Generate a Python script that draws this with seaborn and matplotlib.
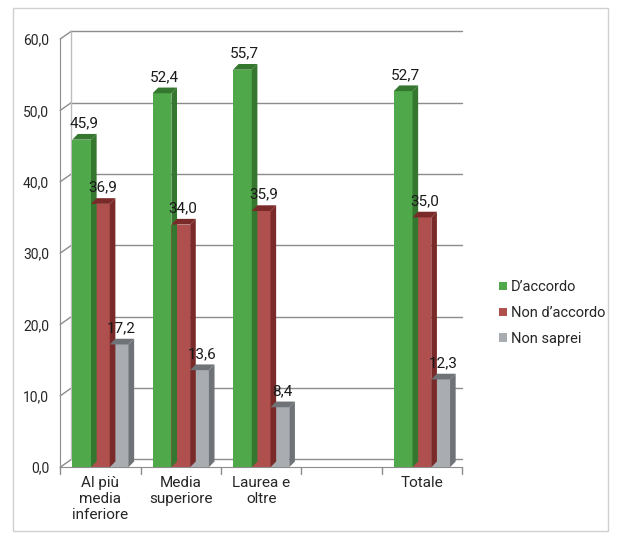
import numpy as np
import pandas as pd
import matplotlib
matplotlib.use("Agg")
import matplotlib.pyplot as plt
from matplotlib.patches import Polygon, Rectangle
import seaborn as sns

categories = ["Al più\nmedia\ninferiore", "Media\nsuperiore", "Laurea e\noltre", " ", "Totale"]
series = ["D’accordo", "Non d’accordo", "Non saprei"]
d_accordo = [45.9, 52.4, 55.7, np.nan, 52.7]
non_accordo = [36.9, 34.0, 35.9, np.nan, 35.0]
non_saprei = [17.2, 13.6, 8.4, np.nan, 12.3]
y_ticks = [0, 10, 20, 30, 40, 50, 60]

face_colors = ["#4fa84a", "#b0504e", "#a9acb0"]
side_colors = ["#35772f", "#7a2a28", "#6f7276"]

sns.set_style("white")
plt.rcParams["font.family"] = ["Liberation Sans Narrow", "Roboto", "DejaVu Sans"]

df = pd.DataFrame({
    "categoria": categories * 3,
    "serie": [series[0]] * 5 + [series[1]] * 5 + [series[2]] * 5,
    "valore": d_accordo + non_accordo + non_saprei,
})

fig = plt.figure(figsize=(6.27, 5.42), dpi=100)
ax = fig.add_axes([0.096, 0.138, 0.641, 0.79])

sns.barplot(data=df, x="categoria", y="valore", hue="serie", order=categories,
            hue_order=series, palette=face_colors, width=0.7, saturation=1,
            linewidth=0, ax=ax, zorder=3)

ax.set_ylim(0, 60)
ax.set_xlim(-0.5, 4.5)
ax.set_yticks(y_ticks)
ax.set_yticklabels([f"{t:.1f}".replace(".", ",") for t in y_ticks], fontsize=10)
ax.set_xlabel("")
ax.set_ylabel("")
ax.tick_params(axis="x", labelsize=11, length=0, pad=6)
ax.tick_params(axis="y", length=0, pad=8)
for s in ["top", "right"]:
    ax.spines[s].set_visible(False)
ax.spines["left"].set_color("#8c8c8c")
ax.spines["bottom"].set_color("#8c8c8c")

# back wall gridlines (slightly offset for the 3D look)
dx, dy = 0.14, 1.1
for t in y_ticks:
    ax.plot([-0.5 + dx, 4.5], [t + dy, t + dy], color="#8c8c8c", lw=1, zorder=1, clip_on=False)
    ax.plot([-0.5, -0.5 + dx], [t, t + dy], color="#8c8c8c", lw=1, zorder=1, clip_on=False)
ax.plot([-0.5 + dx, -0.5 + dx], [dy, 60 + dy], color="#bdbdbd", lw=1, zorder=1, clip_on=False)
for k in range(6):
    ax.plot([k - 0.5, k - 0.5], [0, -0.9], color="#8c8c8c", lw=1, clip_on=False)

# side faces, tops and value labels
sx, sy = 0.07, 0.8
for i, cont in enumerate(ax.containers):
    for bar in cont:
        h = bar.get_height()
        if np.isnan(h) or h == 0:
            continue
        x0 = bar.get_x()
        x1 = x0 + bar.get_width()
        ax.add_patch(Polygon([(x1, 0), (x1 + sx, sy), (x1 + sx, h + sy), (x1, h)],
                             closed=True, facecolor=side_colors[i], edgecolor="none", zorder=3))
        ax.add_patch(Polygon([(x0, h), (x0 + sx, h + sy), (x1 + sx, h + sy), (x1, h)],
                             closed=True, facecolor=side_colors[i], edgecolor="none", zorder=3))
        ax.text((x0 + x1) / 2 + 0.03, h + 1.3, f"{h:.1f}".replace(".", ","),
                ha="center", va="bottom", fontsize=11, color="#1a1a1a", zorder=5)

leg = ax.legend(loc="center left", bbox_to_anchor=(1.06, 0.36), frameon=False,
                fontsize=10.5, handlelength=0.5, handleheight=0.5, handletextpad=0.3,
                labelspacing=0.8)

fig.patches.append(Rectangle((0.02, 0.02), 0.95, 0.965, transform=fig.transFigure,
                             fill=False, edgecolor="#d0d0d0", lw=1))

fig.savefig("out.png", dpi=100)
